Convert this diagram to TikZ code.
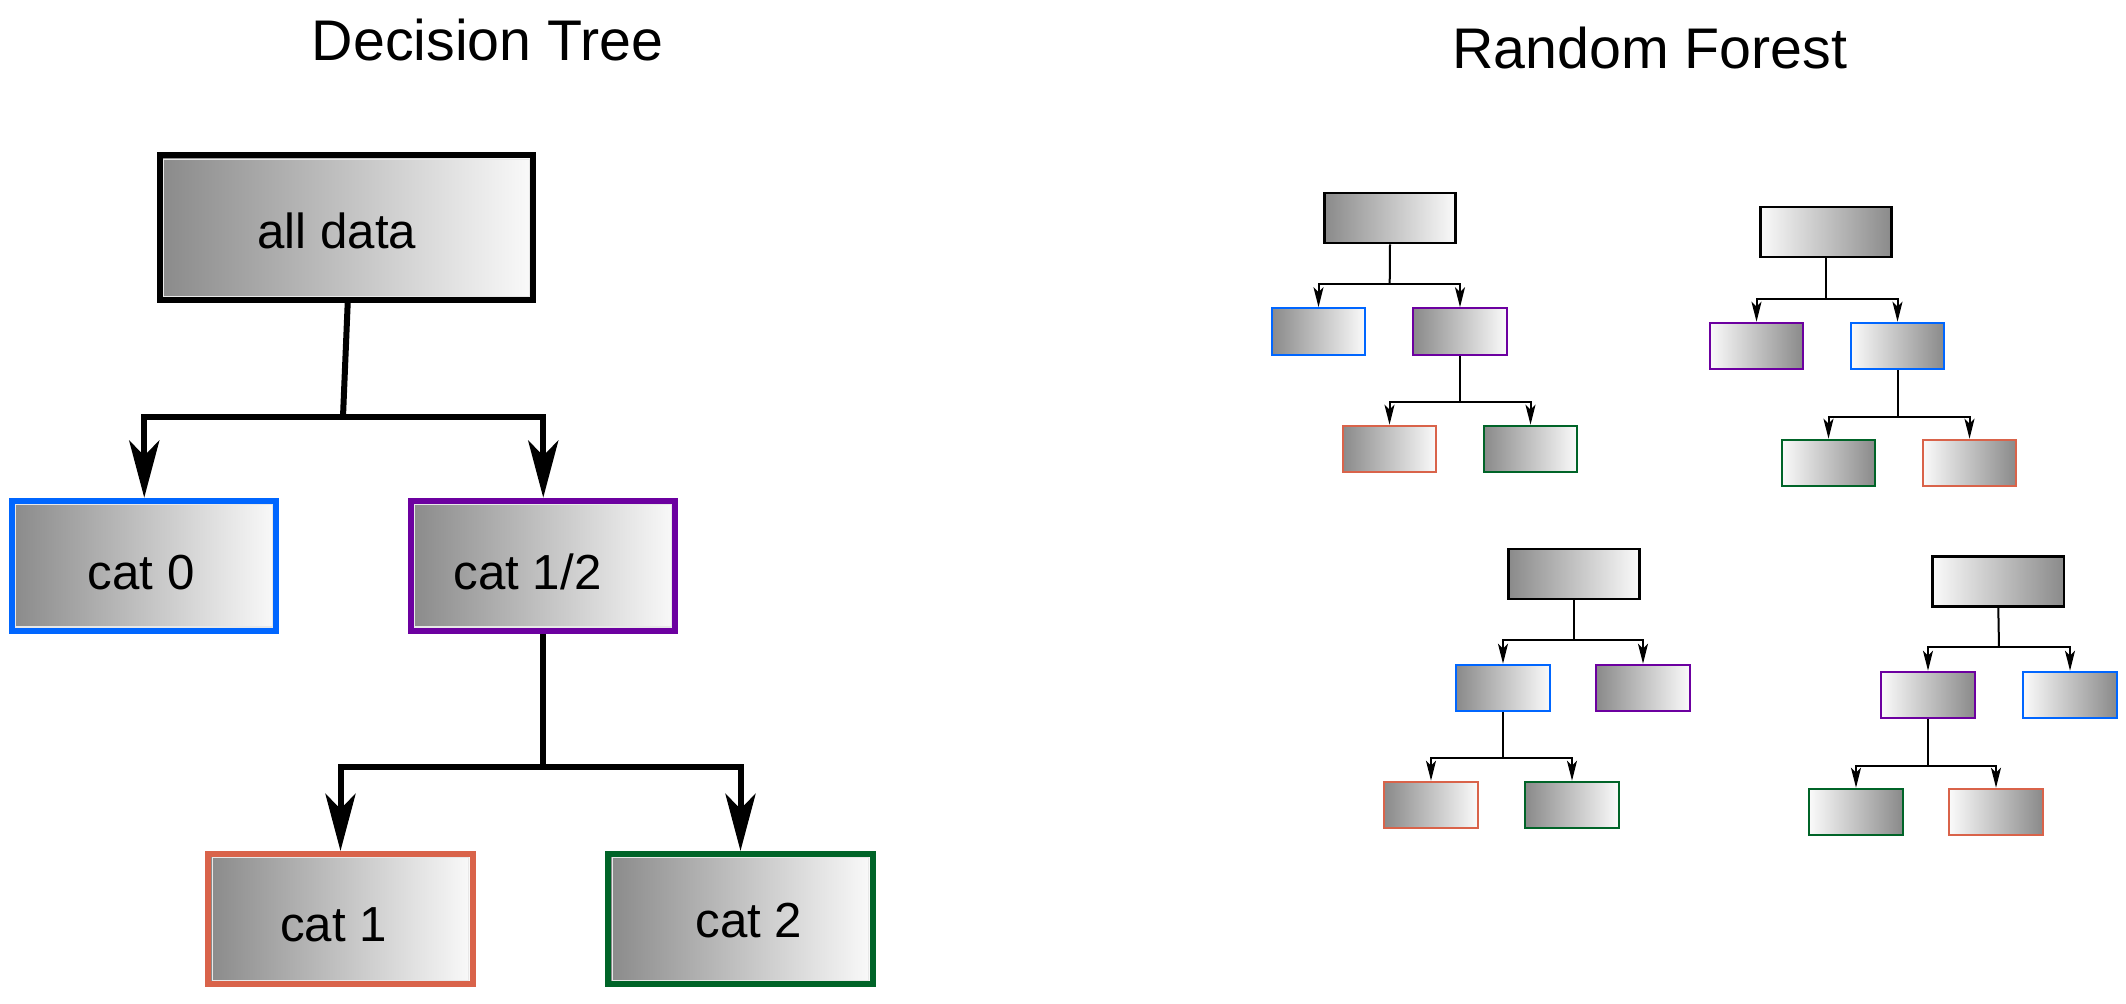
\documentclass[tikz,border=0pt]{standalone}
\usepackage{fontspec}
\setmainfont{Liberation Sans}
\usetikzlibrary{arrows.meta}
\definecolor{cblue}{RGB}{0,102,255}
\definecolor{cpurple}{RGB}{108,0,160}
\definecolor{corange}{RGB}{217,99,74}
\definecolor{cgreen}{RGB}{0,100,40}
\definecolor{gdark}{RGB}{138,138,138}
\definecolor{glight}{RGB}{250,250,250}
\definecolor{ginner}{RGB}{232,232,232}
\newcommand\shtxt[3]{\raisebox{#2}[\height][\depth]{\kern#1\relax#3\kern-#1\relax}}
\tikzset{
  bigbox/.style={draw, line width=0.06cm, minimum width=2.64cm, minimum height=1.30cm,
    inner sep=0pt, font=\fontsize{14}{16}\selectfont, left color=gdark, right color=glight,
    path picture={\draw[ginner, line width=0.012cm]
      ([xshift=0.037cm,yshift=-0.037cm]path picture bounding box.north west) rectangle
      ([xshift=-0.037cm,yshift=0.037cm]path picture bounding box.south east);}},
  rootbig/.style={bigbox, minimum width=3.73cm, minimum height=1.445cm},
  bigline/.style={line width=0.06cm},
  bigarrow/.style={line width=0.06cm, -{Stealth[length=0.57cm, width=0.30cm, inset=0.15cm]}},
  sroot/.style={draw, line width=0.027cm, minimum width=1.31cm, minimum height=0.50cm, inner sep=0pt},
  schild/.style={draw, line width=0.02cm, minimum width=0.93cm, minimum height=0.465cm, inner sep=0pt},
  lr/.style={left color=gdark, right color=glight},
  rl/.style={left color=glight, right color=gdark},
  sline/.style={line width=0.02cm},
  sarrow/.style={line width=0.02cm, -{Stealth[length=0.2cm, width=0.1cm, inset=0.05cm]}},
  titlefont/.style={font=\fontsize{16.3}{19}\selectfont, anchor=base, inner sep=0pt}
}
\begin{document}
\begin{tikzpicture}[x=0.01cm, y=-0.01cm]
\useasboundingbox (0,0) rectangle (2126,1004);

% titles
\node[titlefont] (dt) at (487.5,61) {Decision Tree};
\node[titlefont] (rf) at (1649.7,68.3) {Random Forest};

% decision tree
\node[rootbig] (nall) at (346.5,227.75) {\shtxt{-0.095cm}{-0.03cm}{all data}};
\node[bigbox, draw=cblue] (n0) at (144.25,565.75) {\shtxt{-0.03cm}{-0.066cm}{cat 0}};
\node[bigbox, draw=cpurple] (n12) at (543.25,565.75) {\shtxt{-0.157cm}{-0.066cm}{cat 1/2}};
\node[bigbox, draw=corange] (n1) at (340.5,919) {\shtxt{-0.07cm}{-0.054cm}{cat 1}};
\node[bigbox, draw=cgreen] (n2) at (740.5,919) {\shtxt{0.085cm}{-0.014cm}{cat 2}};
\coordinate (nj0) at (343,416.7);
\coordinate (nj1) at (543.25,766.7);
\draw[bigline] ([xshift=0.012cm]nall.south) -- (nj0);
\draw[bigarrow] (nj0) -| (n0.north);
\draw[bigarrow] (nj0) -| (n12.north);
\draw[bigline] (n12.south) -- (nj1);
\draw[bigarrow] (nj1) -| (n1.north);
\draw[bigarrow] (nj1) -| (n2.north);

% forest tree A
\node[sroot, lr] (ta0) at (1390,218) {};
\node[schild, lr, draw=cblue] (ta1) at (1318.5,331.5) {};
\node[schild, lr, draw=cpurple] (ta2) at (1460,331.5) {};
\node[schild, lr, draw=corange] (ta3) at (1389.5,449) {};
\node[schild, lr, draw=cgreen] (ta4) at (1530.5,449) {};
\coordinate (taj1) at (1389.7,284.3);
\coordinate (taj2) at (1460,402);
\draw[sline] (ta0.south) -- (taj1);
\draw[sarrow] (taj1) -| (ta1.north);
\draw[sarrow] (taj1) -| (ta2.north);
\draw[sline] (ta2.south) -- (taj2);
\draw[sarrow] (taj2) -| (ta3.north);
\draw[sarrow] (taj2) -| (ta4.north);

% forest tree B
\node[sroot, rl] (tb0) at (1826,232) {};
\node[schild, rl, draw=cpurple] (tb1) at (1756.5,346) {};
\node[schild, rl, draw=cblue] (tb2) at (1897.5,346) {};
\node[schild, rl, draw=cgreen] (tb3) at (1828.5,463) {};
\node[schild, rl, draw=corange] (tb4) at (1969.5,463) {};
\coordinate (tbj1) at (1826,298.7);
\coordinate (tbj2) at (1897.5,416.7);
\draw[sline] (tb0.south) -- (tbj1);
\draw[sarrow] (tbj1) -| (tb1.north);
\draw[sarrow] (tbj1) -| (tb2.north);
\draw[sline] (tb2.south) -- (tbj2);
\draw[sarrow] (tbj2) -| (tb3.north);
\draw[sarrow] (tbj2) -| (tb4.north);

% forest tree C
\node[sroot, lr] (tc0) at (1574,574) {};
\node[schild, lr, draw=cblue] (tc1) at (1503,688) {};
\node[schild, lr, draw=cpurple] (tc2) at (1643,688) {};
\node[schild, lr, draw=corange] (tc3) at (1431,805) {};
\node[schild, lr, draw=cgreen] (tc4) at (1572,805) {};
\coordinate (tcj1) at (1574,640);
\coordinate (tcj2) at (1503,758);
\draw[sline] (tc0.south) -- (tcj1);
\draw[sarrow] (tcj1) -| (tc1.north);
\draw[sarrow] (tcj1) -| (tc2.north);
\draw[sline] (tc1.south) -- (tcj2);
\draw[sarrow] (tcj2) -| (tc3.north);
\draw[sarrow] (tcj2) -| (tc4.north);

% forest tree D
\node[sroot, rl] (td0) at (1998.3,581.3) {};
\node[schild, rl, draw=cpurple] (td1) at (1928,695) {};
\node[schild, rl, draw=cblue] (td2) at (2070,695) {};
\node[schild, rl, draw=cgreen] (td3) at (1856,812) {};
\node[schild, rl, draw=corange] (td4) at (1996,812) {};
\coordinate (tdj1) at (1999,647);
\coordinate (tdj2) at (1928,765.7);
\draw[sline] (td0.south) -- (tdj1);
\draw[sarrow] (tdj1) -| (td1.north);
\draw[sarrow] (tdj1) -| (td2.north);
\draw[sline] (td1.south) -- (tdj2);
\draw[sarrow] (tdj2) -| (td3.north);
\draw[sarrow] (tdj2) -| (td4.north);
\end{tikzpicture}
\end{document}
